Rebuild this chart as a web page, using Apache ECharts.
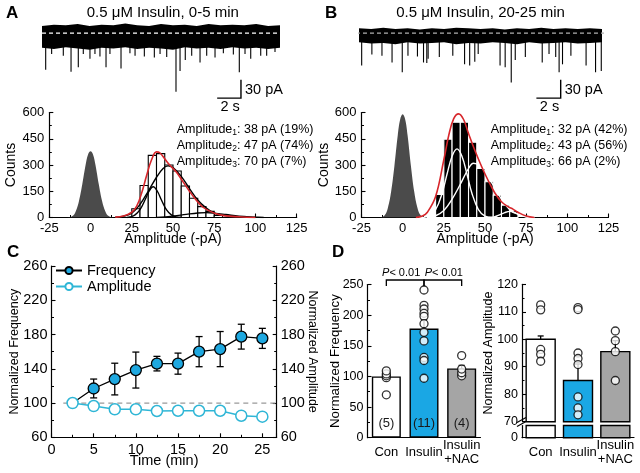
<!DOCTYPE html>
<html><head><meta charset="utf-8">
<script src="https://cdn.jsdelivr.net/npm/echarts@6/dist/echarts.min.js"></script>
<style>html,body{margin:0;padding:0;background:#fff}#c{width:640px;height:473px}</style>
</head><body><div id="c"></div>
<script>
const FONT = '"Liberation Sans", Arial, Helvetica, sans-serif';

// ---------- Panels A/B: raw traces (time in s, current in pA, inward events negative) ----------
const traceTime   = [0,1,2,3,4,5,6,7,8,9,10,11,12,13,14,15,16,17,18,19,20];
const traceAUpper = [12,14,13,15,12,14,13,16,13,12,15,13,14,12,15,13,14,13,15,12,13];
const traceALower = [-24,-26,-23,-25,-27,-24,-25,-23,-26,-24,-25,-27,-23,-25,-24,-26,-23,-25,-24,-26,-24];
const traceASpikeT   = [0.31,0.81,1.79,2.44,3.05,3.47,4.03,4.45,4.87,5.38,5.71,6.64,7.39,7.82,8.6,9.44,9.92,10.48,11.26,11.6,12.04,12.58,13.28,13.84,14.54,15.24,16.08,16.58,17.06,17.54,18.38,18.88,19.58];
const traceASpikeAmp = [60,34,37,63,56,34,42,34,38,56,34,58,33,37,38,40,34,39,96,62,44,37,48,37,40,33,35,64,34,42,37,37,31];
const traceBUpper = [8,7,9,7,8,6,8,7,9,8,7,8,6,8,7,9,7,8,7,8,7];
const traceBLower = [-15,-17,-16,-18,-15,-17,-16,-15,-18,-16,-17,-15,-16,-18,-15,-17,-16,-15,-17,-16,-15];
const traceBSpikeT   = [0.22,1.06,1.89,2.72,3.56,4.03,4.81,5.31,5.58,5.69,6.61,7.72,8.69,9.11,9.53,9.81,11.61,12.03,12.53,12.86,13.69,15.08,15.64,16.19,16.47,16.75,17.44,18.69,19.47,19.94];
const traceBSpikeAmp = [53,35,37,48,64,37,38,48,49,42,39,37,51,53,47,34,53,56,81,44,39,48,34,39,64,51,37,53,64,62];
const scaleBarT = 2, scaleBarPA = 30;
const titleA = '0.5 μM Insulin, 0-5 min';
const titleB = '0.5 μM Insulin, 20-25 min';

// ---------- Amplitude histograms ----------
const binWidth = 5;
const histABins   = [25,30,35,40,45,50,55,60,65,70,75];
const histACounts = [50,183,355,365,300,266,180,110,62,35,12];
const noiseA = [[-14,0],[-11,8],[-9,35],[-7,95],[-5,190],[-3,300],[-1.5,360],[0,378],[1.5,360],[3,300],[5,190],[7,95],[9,35],[11,8],[14,0]];
const fitA1 = [[22,0],[24,3],[27,15],[30,45],[33,100],[35.5,150],[38,176],[40.5,150],[43,100],[46,45],[49,15],[52,3],[55,0]];
const fitA2 = [[15,2],[20,8],[25,25],[30,75],[35,150],[40,230],[44,280],[47,295],[50,285],[55,235],[60,165],[65,100],[70,55],[75,25],[80,12],[90,3],[100,0]];
const fitA3 = [[40,0],[50,8],[58,18],[65,26],[70,28],[75,25],[82,17],[90,7],[100,2],[105,0]];
const fitASum = [[15,2],[20,8],[25,30],[28,65],[31,140],[34,240],[37,330],[40,375],[42,370],[45,335],[48,300],[52,260],[56,205],[60,150],[64,100],[68,60],[72,38],[76,22],[80,12],[90,4],[100,0]];
const histBBins   = [15,20,25,30,35,40,45,50,55,60,65];
const histBCounts = [6,132,448,545,545,430,281,204,128,71,40];
const noiseB = [[-14,0],[-11,12],[-9,55],[-7,148],[-5,296],[-3,468],[-1.5,562],[0,590],[1.5,562],[3,468],[5,296],[7,148],[9,55],[11,12],[14,0]];
const fitB1 = [[10,0],[15,5],[20,45],[24,140],[27,250],[30,350],[33,392],[36,350],[39,250],[42,140],[46,45],[50,8],[55,0]];
const fitB2 = [[15,2],[20,10],[25,40],[30,105],[35,190],[40,280],[43,310],[47,295],[50,260],[55,185],[60,105],[65,45],[70,18],[75,5],[80,0]];
const fitB3 = [[52,0],[55,2],[58,12],[62,28],[65,35],[68,28],[72,12],[75,3],[78,0]];
const fitBSum = [[8,0],[12,8],[15,30],[20,120],[25,330],[28,470],[31,565],[34,592],[37,560],[40,480],[44,380],[48,290],[52,210],[56,140],[60,90],[64,62],[67,48],[70,30],[75,8],[80,0]];
const ampTextA = [['1','38 pA (19%)'],['2','47 pA (74%)'],['3','70 pA (7%)']];
const ampTextB = [['1','32 pA (42%)'],['2','43 pA (56%)'],['3','66 pA (2%)']];

// ---------- Panel C: time course ----------
const timeC   = [2.5,5,7.5,10,12.5,15,17.5,20,22.5,25];
const freqC   = [100,117,128,138.5,146,146,160,163,177.5,175.5];
const freqErr = [0,11,18.5,21,8.5,12.3,17.6,20.5,14.5,11.7];
const ampC    = [100,96.5,92.7,92.7,90.7,91,91,91,85.2,84.1];
const ampErr  = [0,3,3.5,3.5,2.5,2.5,2.5,2.5,2.5,2.5];

// ---------- Panel D: summary ----------
const groups   = ['Con','Insulin','Insulin\n+NAC'];
const groupColors = ['#ffffff','#1aa7e4','#a5a5a5'];
const nCells   = [5,11,4];
const freqMean = [100,178,113];
const freqSem  = [3,14,5];
const freqDots = [[70,98,101,104,109],[241,216,210,203,198,186,172,158,131,126,97],[101,106,112,134]];
const sigPairs = [[0,1],[1,2]];
const sigText  = ['< 0.01','< 0.01'];
const ampMean  = [100,85,95.5];
const ampSem   = [1.2,6,4];
const ampDots  = [[112.5,110.7,96.3,94.5,92],[111.5,110.8,95,93,90.8,79,75,72.5],[103,99.5,95.5,85]];

// ---------- helpers ----------
function valAxis(gi, o) {
  return Object.assign({
    type:'value', gridIndex:gi, splitLine:{show:false}, nameMoveOverlap:false,
    axisLine:{show:true, onZero:false, lineStyle:{color:'#000', width:1.2}},
    axisTick:{show:true, inside:true, length:4, lineStyle:{color:'#000', width:1.1}},
    minorTick:{show:true, splitNumber:2, length:2.5, lineStyle:{color:'#000', width:1}},
    axisLabel:{color:'#000', fontFamily:FONT, fontSize:13, margin:5},
    nameTextStyle:{color:'#000', fontFamily:FONT, fontSize:14}, nameLocation:'middle'
  }, o);
}
function hiddenAxis(gi, o) {
  return Object.assign({type:'value', gridIndex:gi, show:false, splitLine:{show:false}}, o);
}
function curve(xi, color, data, w) {
  return {type:'line', xAxisIndex:xi, yAxisIndex:xi, data, smooth:0.4, symbol:'none', silent:true,
    lineStyle:{color, width:w||1.4}, z:4};
}
function peak(xi, data) {
  return {type:'line', xAxisIndex:xi, yAxisIndex:xi, data, smooth:0.4, symbol:'none', silent:true,
    lineStyle:{width:0}, areaStyle:{color:'#4b4b4b', opacity:1}, z:2};
}
function histBars(xi, bins, counts, fill, stroke) {
  return {type:'custom', xAxisIndex:xi, yAxisIndex:xi, silent:true, z:3,
    data: bins.map((b,i)=>[b, counts[i]]),
    renderItem:(p, api)=>{
      const x0 = api.value(0), c = api.value(1);
      const a = api.coord([x0, 0]), b = api.coord([x0 + binWidth, c]);
      return {type:'rect', shape:{x:a[0], y:b[1], width:b[0]-a[0], height:a[1]-b[1]},
        style:{fill, stroke, lineWidth:1.1}};
    }};
}
function traceBand(xi, upper, lower) {
  return {type:'custom', xAxisIndex:xi, yAxisIndex:xi, silent:true, z:2, data:[[0,0]],
    renderItem:(p, api)=>{
      const pts = traceTime.map((t,i)=>api.coord([t, upper[i]]));
      for (let i = traceTime.length-1; i >= 0; i--) pts.push(api.coord([traceTime[i], lower[i]]));
      return {type:'polygon', shape:{points:pts}, style:{fill:'#000'}};
    }};
}
function traceSpikes(xi, ts, amps) {
  return {type:'custom', xAxisIndex:xi, yAxisIndex:xi, silent:true, z:2,
    data: ts.map((t,i)=>[t, -amps[i]]),
    renderItem:(p, api)=>{
      const a = api.coord([api.value(0), -10]), b = api.coord([api.value(0), api.value(1)]);
      return {type:'line', shape:{x1:a[0], y1:a[1], x2:b[0], y2:b[1]}, style:{stroke:'#000', lineWidth:1.1}};
    }};
}
function scaleBar(xi, corner) {
  return {type:'custom', xAxisIndex:xi, yAxisIndex:xi, silent:true, z:5, clip:false, data:[corner],
    renderItem:(p, api)=>{
      const c = api.coord([api.value(0), api.value(1)]);
      const top = api.coord([api.value(0), api.value(1) + scaleBarPA]);
      const left = api.coord([api.value(0) - scaleBarT, api.value(1)]);
      return {type:'group', children:[
        {type:'polyline', shape:{points:[top, c, left]}, style:{stroke:'#000', lineWidth:1.4, fill:null}},
        {type:'text', x:c[0]+4, y:(c[1]+top[1])/2 + 1, style:{text:scaleBarPA + ' pA', font:'14.5px ' + FONT, fill:'#000', align:'left', verticalAlign:'middle'}},
        {type:'text', x:(c[0]+left[0])/2 + 1, y:c[1] + 9, style:{text:scaleBarT + ' s', font:'14.5px ' + FONT, fill:'#000', align:'center', verticalAlign:'middle'}}
      ]};
    }};
}
function errBars(xi, yi, xs, means, errs, capHalf, upOnly, z) {
  return {type:'custom', xAxisIndex:xi, yAxisIndex:yi, silent:true, z:z,
    data: xs.map((x,i)=>[x, means[i], errs[i]]),
    renderItem:(p, api)=>{
      const x = api.value(0), m = api.value(1), e = api.value(2);
      if (!e) return null;
      const top = api.coord([x, m + e]), bot = api.coord([x, upOnly ? m : m - e]);
      const st = {stroke:'#000', lineWidth:1.3};
      const ch = [
        {type:'line', shape:{x1:top[0], y1:top[1], x2:bot[0], y2:bot[1]}, style:st},
        {type:'line', shape:{x1:top[0]-capHalf, y1:top[1], x2:top[0]+capHalf, y2:top[1]}, style:st}];
      if (!upOnly) ch.push({type:'line', shape:{x1:bot[0]-capHalf, y1:bot[1], x2:bot[0]+capHalf, y2:bot[1]}, style:st});
      return {type:'group', children:ch};
    }};
}
function dots(xi, yi, groupsDots) {
  const data = [];
  groupsDots.forEach((arr, g)=>arr.forEach(v=>data.push([g, v])));
  return {type:'scatter', xAxisIndex:xi, yAxisIndex:yi, data, symbol:'circle', symbolSize:8, silent:true, z:6,
    itemStyle:{color:'#fff', borderColor:'#000', borderWidth:1.3}};
}
function brokenBars(xi, fromVal, vals, toTop) {
  return {type:'custom', xAxisIndex:xi, yAxisIndex:xi+1, silent:true, z:3,
    data: vals.map((v,i)=>[i, v]),
    renderItem:(p, api)=>{
      const i = api.value(0);
      const a = api.coord([i, fromVal]);
      const b = api.coord([i, toTop === undefined ? api.value(1) : toTop]);
      return {type:'rect', shape:{x:a[0]-14.5, y:b[1], width:29, height:a[1]-b[1]},
        style:{fill:groupColors[i], stroke:'#000', lineWidth:1.4}};
    }};
}
function ampRich(lines, x, y0, dy) {
  return lines.map((l,k)=>({type:'text', x:x, y:y0 + k*dy, silent:true, style:{
    text:'{a|Amplitude}{s|' + l[0] + '}{a|: ' + l[1] + '}', align:'left', verticalAlign:'middle',
    rich:{a:{fontSize:12.5, fontFamily:FONT, fill:'#000', lineHeight:16}, s:{fontSize:8.5, fontFamily:FONT, fill:'#000', lineHeight:8, verticalAlign:'bottom'}}}}));
}
const catLabel = {color:'#000', fontFamily:FONT, fontSize:13, margin:15, verticalAlign:'middle', lineHeight:14, interval:0};
const dTick = {color:'#000', fontFamily:FONT, fontSize:12.5, margin:4};

const chart = echarts.init(document.getElementById('c'), null, {renderer:'canvas'});
const option = {
  animation:false,
  textStyle:{fontFamily:FONT},
  grid:[
    {left:42, top:21, width:238, height:79.3},
    {left:359, top:21, width:243, height:79.3},
    {left:49.3, top:112.5, width:247.4, height:105},
    {left:361.5, top:112.5, width:247, height:105},
    {left:51.5, top:266, width:225.2, height:171.3},
    {left:367.5, top:284.5, width:113, height:153.2},
    {left:522, top:284.3, width:112, height:137.4},
    {left:522, top:425.5, width:112, height:12.2}
  ],
  xAxis:[
    hiddenAxis(0, {min:0, max:20}),
    hiddenAxis(1, {min:0, max:20}),
    valAxis(2, {min:-25, max:125, interval:25, name:'Amplitude (-pA)', nameGap:14.5, axisLabel:{color:'#000', fontFamily:FONT, fontSize:13, margin:4}}),
    valAxis(3, {min:-25, max:125, interval:25, name:'Amplitude (-pA)', nameGap:14.5, axisLabel:{color:'#000', fontFamily:FONT, fontSize:13, margin:4}}),
    valAxis(4, {min:0, max:26.7, interval:5, name:'Time (min)', nameGap:16.5, nameTextStyle:{color:'#000', fontFamily:FONT, fontSize:14.5},
      axisLabel:{color:'#000', fontFamily:FONT, fontSize:14.5, margin:5, showMaxLabel:false}}),
    {type:'category', gridIndex:5, data:groups, axisTick:{show:false}, axisLine:{lineStyle:{color:'#000', width:1.2}}, axisLabel:catLabel},
    {type:'category', gridIndex:6, data:groups, show:false},
    {type:'category', gridIndex:7, data:groups, axisTick:{show:false}, axisLine:{lineStyle:{color:'#000', width:1.2}}, axisLabel:catLabel}
  ],
  yAxis:[
    hiddenAxis(0, {min:-110, max:20}),
    hiddenAxis(1, {min:-110, max:20}),
    valAxis(2, {min:0, max:600, interval:150, name:'Counts', nameGap:31}),
    valAxis(3, {min:0, max:600, interval:150, name:'Counts', nameGap:30.5}),
    valAxis(4, {min:60, max:260, interval:40, name:'Normalized Frequency', nameGap:30.5, nameTextStyle:{color:'#000', fontFamily:FONT, fontSize:12.5},
      axisLabel:{color:'#000', fontFamily:FONT, fontSize:14.5, margin:4}}),
    valAxis(4, {min:60, max:260, interval:40, position:'right', name:'Normalized Amplitude', nameGap:29.5, nameRotate:-90, nameTextStyle:{color:'#000', fontFamily:FONT, fontSize:12.5},
      axisLabel:{color:'#000', fontFamily:FONT, fontSize:14.5, margin:4}}),
    valAxis(5, {min:0, max:250, interval:50, name:'Normalized Frequency', nameGap:26, nameTextStyle:{color:'#000', fontFamily:FONT, fontSize:13.3}, axisLabel:dTick}),
    valAxis(6, {min:70, max:120, interval:10, name:'Normalized Amplitude', nameGap:26.5, nameTextStyle:{color:'#000', fontFamily:FONT, fontSize:12.6}, axisLabel:dTick}),
    valAxis(7, {min:0, max:1, interval:1, minorTick:{show:false}, axisTick:{show:false},
      axisLabel:Object.assign({}, dTick, {formatter:v=>v===0?'0':''})})
  ],
  legend:{data:['Frequency','Amplitude'], orient:'vertical', left:55, top:263, itemGap:1, itemWidth:26, itemHeight:9, padding:0,
    textStyle:{color:'#000', fontFamily:FONT, fontSize:14.5}},
  series:[
    // A trace
    traceBand(0, traceAUpper, traceALower),
    traceSpikes(0, traceASpikeT, traceASpikeAmp),
    {type:'line', xAxisIndex:0, yAxisIndex:0, data:[[0,0],[20,0]], symbol:'none', silent:true, z:3,
      lineStyle:{color:'#fff', width:1.2, type:[4,3]}},
    scaleBar(0, [16.72, -106.5]),
    // B trace
    traceBand(1, traceBUpper, traceBLower),
    traceSpikes(1, traceBSpikeT, traceBSpikeAmp),
    {type:'line', xAxisIndex:1, yAxisIndex:1, data:[[-0.25,0],[20.4,0]], symbol:'none', silent:true, z:3, clip:false,
      lineStyle:{color:'#b0b0b0', width:1.2, type:[4,3]}},
    scaleBar(1, [16.6, -106.5]),
    // A histogram
    peak(2, noiseA),
    histBars(2, histABins, histACounts, '#fff', '#000'),
    curve(2, '#000', fitA1), curve(2, '#000', fitA2), curve(2, '#000', fitA3),
    curve(2, '#d7262b', fitASum, 1.6),
    // B histogram
    peak(3, noiseB),
    histBars(3, histBBins, histBCounts, '#000', '#fff'),
    curve(3, '#fff', fitB1), curve(3, '#fff', fitB2), curve(3, '#fff', fitB3),
    curve(3, '#d7262b', fitBSum, 1.6),
    // C
    {type:'line', xAxisIndex:4, yAxisIndex:4, data:[[1.4,100],[26.7,100]], symbol:'none', silent:true, z:1,
      lineStyle:{color:'#999', width:1.3, type:[5,4]}},
    errBars(4, 4, timeC, freqC, freqErr, 3.5, false, 2),
    errBars(4, 5, timeC, ampC, ampErr, 3, false, 2),
    {name:'Frequency', type:'line', xAxisIndex:4, yAxisIndex:4, z:4,
      data: timeC.map((t,i)=> i===0 ? {value:[t, freqC[i]], symbol:'none'} : [t, freqC[i]]),
      symbol:'circle', symbolSize:11, showAllSymbol:true,
      itemStyle:{color:'#1ea8e0', borderColor:'#000', borderWidth:1.3},
      lineStyle:{color:'#000', width:1.3}},
    {name:'Amplitude', type:'line', xAxisIndex:4, yAxisIndex:5, z:5,
      data: timeC.map((t,i)=>[t, ampC[i]]),
      symbol:'circle', symbolSize:11, showAllSymbol:true,
      itemStyle:{color:'#fff', borderColor:'#2fb6d6', borderWidth:1.5},
      lineStyle:{color:'#2fb6d6', width:1.5}},
    // D left
    {type:'bar', xAxisIndex:5, yAxisIndex:6, barWidth:29, silent:true, z:3,
      data: freqMean.map((v,i)=>({value:v, itemStyle:{color:groupColors[i], borderColor:'#000', borderWidth:1.4}})),
      label:{show:true, position:'insideBottom', distance:8, color:'#1a1a1a', fontFamily:FONT, fontSize:13,
        formatter:p=>'(' + nCells[p.dataIndex] + ')'}},
    errBars(5, 6, [0,1,2], freqMean, freqSem, 3, true, 4),
    dots(5, 6, freqDots),
    {type:'custom', xAxisIndex:5, yAxisIndex:6, silent:true, z:6, data:sigPairs.map((s,i)=>[s[0], s[1], i]),
      renderItem:(p, api)=>{
        const a = api.coord([api.value(0), 250]), b = api.coord([api.value(1), 250]);
        const yb = a[1] - 4.5, yl = a[1] + 1.5;
        const k = api.value(2);
        return {type:'group', children:[
          {type:'polyline', shape:{points:[[a[0],yl],[a[0],yb],[b[0],yb],[b[0],yl]]}, style:{stroke:'#000', lineWidth:1.3, fill:null}},
          {type:'text', x:(a[0]+b[0])/2 + (k === 0 ? -4 : 1), y:yb - 7.5, style:{text:'{i|P}{n|' + sigText[k] + '}', align:'center', verticalAlign:'middle',
            rich:{i:{fontStyle:'italic', fontSize:11, fontFamily:FONT, fill:'#000'}, n:{fontSize:11, fontFamily:FONT, fill:'#000'}}}}
        ]};
      }},
    // D right (broken axis)
    brokenBars(6, 70, ampMean),
    errBars(6, 7, [0,1,2], ampMean, ampSem, 3, true, 4),
    dots(6, 7, ampDots),
    brokenBars(7, 0, ampMean, 1)
  ],
  graphic:[
    {type:'text', left:6, top:5, silent:true, style:{text:'A', font:'bold 17px ' + FONT, fill:'#000'}},
    {type:'text', left:325, top:5, silent:true, style:{text:'B', font:'bold 17px ' + FONT, fill:'#000'}},
    {type:'text', left:7, top:244, silent:true, style:{text:'C', font:'bold 17px ' + FONT, fill:'#000'}},
    {type:'text', left:332, top:244, silent:true, style:{text:'D', font:'bold 17px ' + FONT, fill:'#000'}},
    {type:'text', x:162.8, y:12.7, silent:true, style:{text:titleA, font:'15px ' + FONT, fill:'#000', align:'center', verticalAlign:'middle'}},
    {type:'text', x:480.5, y:12.7, silent:true, style:{text:titleB, font:'15px ' + FONT, fill:'#000', align:'center', verticalAlign:'middle'}},
    ...ampRich(ampTextA, 176.7, 129.3, 16),
    ...ampRich(ampTextB, 490.7, 129.3, 16),
    {type:'group', silent:true, z:100, children:[
      {type:'polygon', shape:{points:[[517,422.5],[526,417.5],[526,421.5],[517,426.5]]}, style:{fill:'#fff'}},
      {type:'line', shape:{x1:517, y1:422.5, x2:526, y2:417.5}, style:{stroke:'#000', lineWidth:1.2}},
      {type:'line', shape:{x1:517, y1:426.5, x2:526, y2:421.5}, style:{stroke:'#000', lineWidth:1.2}}
    ]}
  ]
};
chart.setOption(option);
</script>
</body></html>
